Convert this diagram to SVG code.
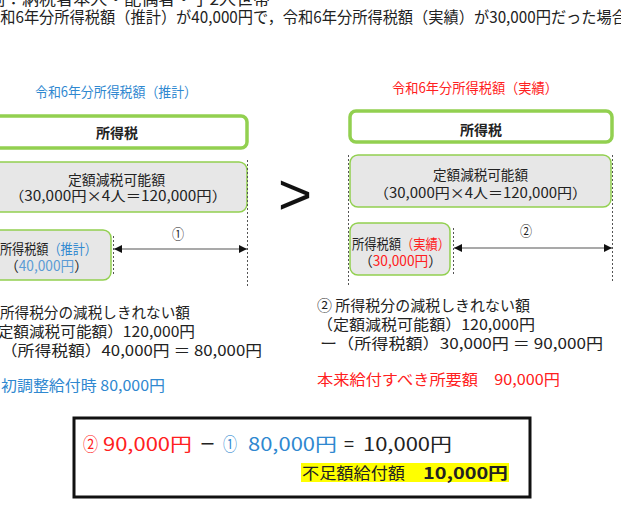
<svg xmlns="http://www.w3.org/2000/svg" width="621" height="505" viewBox="0 0 621 505">
<defs>
<style>
text{font-family:"Noto Sans CJK JP","Noto Sans",sans-serif;fill:#222}
.t{font-size:14px}
.lg{font-size:15px}
.blue{fill:#2f88d0}
.lblue{fill:#5b9bd5}
.red{fill:#ff2020}
.box{fill:#e7e7e7;stroke:#92d050;stroke-width:1.5}
.gbox{fill:#fff;stroke:#92d050;stroke-width:3.5}
.dot{stroke:#555;stroke-width:1;stroke-dasharray:2,2;fill:none}
.arr{stroke:#555;stroke-width:1.2;fill:none}
</style>
<marker id="ah" viewBox="0 0 10 10" refX="10" refY="5" markerWidth="10" markerHeight="8" markerUnits="userSpaceOnUse" orient="auto-start-reverse">
<path d="M0,0 L10,5 L0,10 z" fill="#111"/>
</marker>
</defs>

<g id="header">
<text x="-12" y="5" style="font-size:16px" textLength="282" lengthAdjust="spacingAndGlyphs">例：納税者本人・配偶者・子2人世帯</text>
<text x="-15" y="23" style="font-size:16px" textLength="642" lengthAdjust="spacingAndGlyphs">令和6年分所得税額（推計）が40,000円で，令和6年分所得税額（実績）が30,000円だった場合</text>
</g>

<g id="left-title"><text class="t blue" x="35" y="97" textLength="162" lengthAdjust="spacingAndGlyphs">令和6年分所得税額（推計）</text></g>
<g id="right-title"><text class="t red" x="392" y="93" textLength="166" lengthAdjust="spacingAndGlyphs">令和6年分所得税額（実績）</text></g>

<g id="left-tax">
<rect class="gbox" x="-10" y="116" width="257" height="32" rx="6"/>
<text class="t" x="117" y="138" text-anchor="middle" font-weight="bold">所得税</text>
</g>
<g id="left-deduction">
<rect class="box" x="-10" y="162" width="257" height="50" rx="8"/>
<text class="t" x="68" y="185" textLength="97" lengthAdjust="spacingAndGlyphs">定額減税可能額</text>
<text class="t" x="9" y="201" textLength="218" lengthAdjust="spacingAndGlyphs">（30,000円×4人＝120,000円）</text>
</g>
<g id="left-amount">
<rect class="box" x="-10" y="230" width="121" height="50" rx="8"/>
<text class="t" x="0" y="254" textLength="97" lengthAdjust="spacingAndGlyphs">所得税額<tspan class="blue">（推計）</tspan></text>
<text class="t" x="5" y="271" textLength="83" lengthAdjust="spacingAndGlyphs">（<tspan class="lblue">40,000円</tspan>）</text>
</g>

<g id="right-tax">
<rect class="gbox" x="350" y="111" width="262" height="31" rx="6"/>
<text class="t" x="481" y="135" text-anchor="middle" font-weight="bold">所得税</text>
</g>
<g id="right-deduction">
<rect class="box" x="350" y="155" width="261" height="52" rx="8"/>
<text class="t" x="433" y="180" textLength="95" lengthAdjust="spacingAndGlyphs">定額減税可能額</text>
<text class="t" x="374" y="198" textLength="213" lengthAdjust="spacingAndGlyphs">（30,000円×4人＝120,000円）</text>
</g>
<g id="right-amount">
<rect class="box" x="350" y="223" width="100" height="52" rx="8"/>
<text class="t" x="352" y="249" textLength="98" lengthAdjust="spacingAndGlyphs">所得税額<tspan class="red">（実績）</tspan></text>
<text class="t" x="359" y="266" textLength="83" lengthAdjust="spacingAndGlyphs">（<tspan class="red">30,000円</tspan>）</text>
</g>

<g id="gt"><text x="278" y="214" style="font-family:'Liberation Sans',sans-serif;font-size:58px;fill:#111" textLength="34" lengthAdjust="spacingAndGlyphs">&gt;</text></g>

<g id="connectors">
<line class="dot" x1="247.5" y1="160" x2="247.5" y2="287"/>
<line class="dot" x1="113.5" y1="236" x2="113.5" y2="275"/>
<line class="dot" x1="348.5" y1="155" x2="348.5" y2="287"/>
<line class="dot" x1="612.5" y1="155" x2="612.5" y2="282"/>
<line class="dot" x1="453.5" y1="228" x2="453.5" y2="276"/>
<line class="arr" x1="114" y1="249" x2="247" y2="249" marker-start="url(#ah)" marker-end="url(#ah)"/>
<line class="arr" x1="454" y1="248" x2="612" y2="248" marker-start="url(#ah)" marker-end="url(#ah)"/>
<text class="t" x="172" y="239" textLength="12" lengthAdjust="spacingAndGlyphs">①</text>
<text class="t" x="520" y="236" textLength="12" lengthAdjust="spacingAndGlyphs">②</text>
</g>

<g id="left-calc">
<text class="lg" x="-18" y="318" textLength="208" lengthAdjust="spacingAndGlyphs">① 所得税分の減税しきれない額</text>
<text class="lg" x="-18" y="337" textLength="213" lengthAdjust="spacingAndGlyphs">（定額減税可能額）120,000円</text>
<text class="lg" x="-16" y="356" textLength="278" lengthAdjust="spacingAndGlyphs">ー（所得税額）40,000円 ＝ 80,000円</text>
<text class="lg blue" x="-15" y="391" textLength="180" lengthAdjust="spacingAndGlyphs">当初調整給付時 80,000円</text>
</g>

<g id="right-calc">
<text class="lg" x="317" y="311" textLength="213" lengthAdjust="spacingAndGlyphs">② 所得税分の減税しきれない額</text>
<text class="lg" x="317" y="330" textLength="218" lengthAdjust="spacingAndGlyphs">（定額減税可能額）120,000円</text>
<text class="lg" x="320" y="349" textLength="283" lengthAdjust="spacingAndGlyphs">ー（所得税額）30,000円 ＝ 90,000円</text>
<text class="lg red" x="317" y="385" textLength="243" lengthAdjust="spacingAndGlyphs">本来給付すべき所要額　90,000円</text>
</g>

<g id="result">
<rect x="74" y="418" width="456" height="79" fill="#fff" stroke="#111" stroke-width="3"/>
<text class="red" style="font-size:18px" x="83" y="451" textLength="15" lengthAdjust="spacingAndGlyphs">②</text>
<text class="red" style="font-size:18px" x="103" y="451" textLength="89" lengthAdjust="spacingAndGlyphs">90,000円</text>
<text style="font-size:18px" x="200" y="451" textLength="15" lengthAdjust="spacingAndGlyphs">ー</text>
<text class="blue" style="font-size:18px" x="223" y="451" textLength="14" lengthAdjust="spacingAndGlyphs">①</text>
<text class="blue" style="font-size:18px" x="248" y="451" textLength="89" lengthAdjust="spacingAndGlyphs">80,000円</text>
<text style="font-size:18px" x="343" y="451" textLength="12" lengthAdjust="spacingAndGlyphs">＝</text>
<text style="font-size:18px" x="363" y="451" textLength="89" lengthAdjust="spacingAndGlyphs">10,000円</text>
<rect x="301" y="463" width="208" height="19" fill="#ffff00"/>
<text style="font-size:16px" x="302" y="479" textLength="103" lengthAdjust="spacingAndGlyphs">不足額給付額</text>
<text style="font-size:16px" font-weight="bold" x="423" y="479" textLength="85" lengthAdjust="spacingAndGlyphs">10,000円</text>
</g>
</svg>
